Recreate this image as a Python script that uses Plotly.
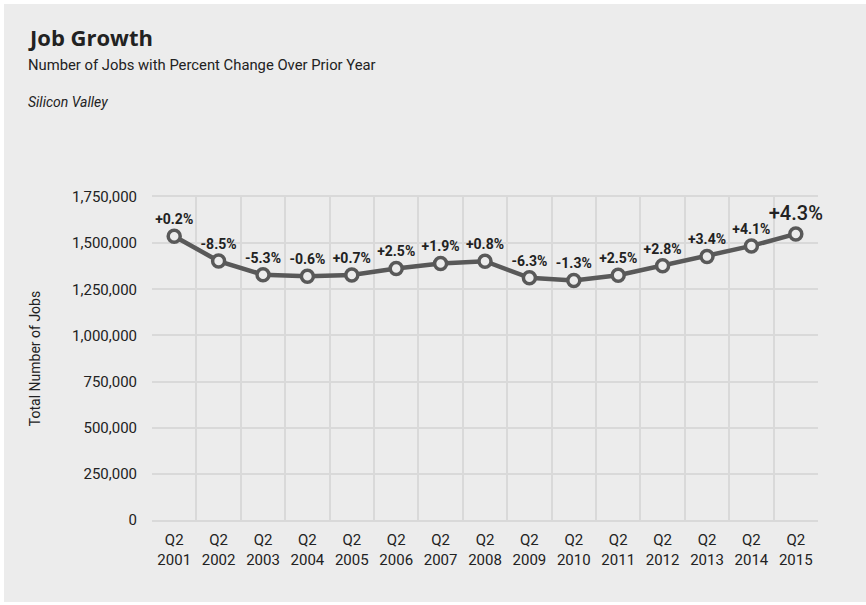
import plotly.graph_objects as go

years = ["2001", "2002", "2003", "2004", "2005", "2006", "2007", "2008",
         "2009", "2010", "2011", "2012", "2013", "2014", "2015"]
tick_labels = ["Q2<br>" + y for y in years]
jobs = [1537000, 1403000, 1329000, 1321000, 1327000, 1363000, 1390000, 1402000,
        1312000, 1298000, 1326000, 1378000, 1428000, 1485000, 1550000]
pct_labels = ["+0.2%", "-8.5%", "-5.3%", "-0.6%", "+0.7%", "+2.5%", "+1.9%", "+0.8%",
              "-6.3%", "-1.3%", "+2.5%", "+2.8%", "+3.4%", "+4.1%", "+4.3%"]
y_ticks = [0, 250000, 500000, 750000, 1000000, 1250000, 1500000, 1750000]

W, H = 866, 605
L, R, T, B = 152, 48, 197, 85
pw, ph = W - L - R, H - T - B

def px_x(px):
    return (px - L) / pw

def px_y(py):
    return (H - B - py) / ph

NARROW = "Roboto, Liberation Sans, sans-serif"
BG = "#ececec"
GRID = "#d9d9d9"
LINE = "#595959"
TXT = "#222222"

xs = list(range(1, len(years) + 1))
sizes = [14] * (len(years) - 1) + [20]
weights = [700] * (len(years) - 1) + [500]

fig = go.Figure()
fig.add_trace(go.Scatter(
    x=xs, y=jobs, mode="lines+markers+text",
    line=dict(color=LINE, width=4.5),
    marker=dict(size=12, color=BG, line=dict(color=LINE, width=3.5)),
    text=pct_labels, textposition="top center",
    textfont=dict(family=NARROW, size=sizes, color=TXT, weight=weights),
    cliponaxis=False, showlegend=False, hoverinfo="skip",
))
# invisible trace to carry the category labels axis
fig.add_trace(go.Scatter(x=xs, y=jobs, xaxis="x2", mode="markers",
                         marker=dict(opacity=0), showlegend=False, hoverinfo="skip"))

fig.update_layout(
    width=W, height=H,
    margin=dict(l=L, r=R, t=T, b=B, pad=0),
    paper_bgcolor="white",
    plot_bgcolor="rgba(0,0,0,0)",
    xaxis=dict(range=[0.5, len(years) + 0.5], tick0=0.5, dtick=1,
               showticklabels=False, ticks="", showgrid=True,
               gridcolor=GRID, gridwidth=2, zeroline=False,
               showline=True, linecolor=GRID, linewidth=2, mirror=True),
    xaxis2=dict(range=[0.5, len(years) + 0.5], overlaying="x", side="bottom",
                tickvals=xs, ticktext=tick_labels, showgrid=False, zeroline=False,
                ticks="outside", ticklen=6, tickcolor="rgba(0,0,0,0)",
                tickfont=dict(family=NARROW, size=15, color=TXT)),
    yaxis=dict(range=[0, 1750000], tickvals=y_ticks,
               ticktext=[f"{v:,}" for v in y_ticks],
               showgrid=True, gridcolor=GRID, gridwidth=2, zeroline=False,
               ticks="outside", ticklen=11, tickcolor="rgba(0,0,0,0)",
               tickfont=dict(family=NARROW, size=15, color=TXT),
               title=dict(text="Total Number of Jobs", standoff=28,
                          font=dict(family=NARROW, size=14, color=TXT))),
    shapes=[dict(type="rect", xref="paper", yref="paper", layer="below",
                 x0=px_x(4), x1=px_x(W + 2), y0=px_y(602), y1=px_y(4),
                 fillcolor=BG, line=dict(width=0))],
    annotations=[
        dict(text="<b>Job Growth</b>", xref="paper", yref="paper",
             x=px_x(26), y=px_y(37), xanchor="left", yanchor="middle",
             showarrow=False, font=dict(family="Open Sans, sans-serif", size=22, color=TXT)),
        dict(text="Number of Jobs with Percent Change Over Prior Year", xref="paper", yref="paper",
             x=px_x(26), y=px_y(65), xanchor="left", yanchor="middle",
             showarrow=False, font=dict(family=NARROW, size=14.8, color=TXT)),
        dict(text="<i>Silicon Valley</i>", xref="paper", yref="paper",
             x=px_x(26), y=px_y(102), xanchor="left", yanchor="middle",
             showarrow=False, font=dict(family=NARROW, size=14, color=TXT)),
    ],
)

fig.write_html("out.html", config={"displayModeBar": False},
               post_script="document.body.style.margin='0px';")
